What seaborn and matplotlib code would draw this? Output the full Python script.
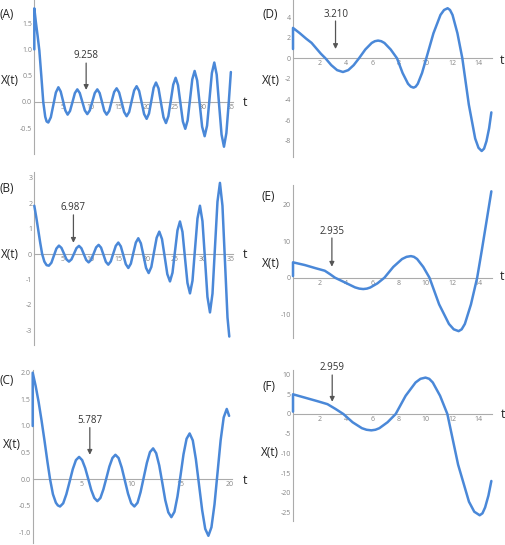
import numpy as np
import pandas as pd
import matplotlib
matplotlib.use('Agg')
import matplotlib.pyplot as plt
from matplotlib.ticker import MultipleLocator
import seaborn as sns

# ---- data ----
# (A)
tA = [0, 0, 0.3, 0.6, 0.9, 1.25, 1.6, 1.95, 2.2, 2.5,
      2.95, 3.4, 3.85, 4.3, 4.71, 5.13, 5.54, 5.95,
      6.38, 6.82, 7.25, 7.68, 8.12, 8.57, 9.02, 9.46,
      9.91, 10.36, 10.8, 11.25, 11.67, 12.09, 12.5, 12.92,
      13.37, 13.81, 14.26, 14.7, 15.15, 15.6, 16.04, 16.49,
      16.94, 17.38, 17.83, 18.27, 18.72, 19.17, 19.61, 20.06,
      20.48, 20.9, 21.31, 21.73, 22.18, 22.62, 23.07, 23.51,
      23.94, 24.38, 24.81, 25.24, 25.67, 26.1, 26.53, 26.96,
      27.38, 27.8, 28.21, 28.63, 29.08, 29.53, 29.97, 30.42,
      30.85, 31.28, 31.71, 32.14, 32.57, 33.0, 33.44, 33.87,
      34.3, 34.73, 35.1]
xA = [1.0, 1.78, 1.5, 1.25, 0.98, 0.5, 0.0, -0.28, -0.37, -0.39,
      -0.29, -0.055, 0.18, 0.28, 0.20, 0.02, -0.16, -0.24,
      -0.17, 0.0, 0.17, 0.24, 0.17, 0.005, -0.16, -0.23,
      -0.16, 0.005, 0.17, 0.24, 0.17, 0.0, -0.17, -0.24,
      -0.17, 0.01, 0.19, 0.26, 0.18, -0.005, -0.19, -0.27,
      -0.19, 0.015, 0.22, 0.30, 0.21, -0.01, -0.23, -0.32,
      -0.22, 0.025, 0.27, 0.37, 0.26, -0.015, -0.29, -0.40,
      -0.27, 0.03, 0.33, 0.46, 0.32, -0.025, -0.37, -0.51,
      -0.35, 0.04, 0.43, 0.59, 0.41, -0.03, -0.47, -0.65,
      -0.45, 0.05, 0.55, 0.75, 0.52, -0.05, -0.62, -0.85,
      -0.59, 0.0, 0.57]

# (B)
tB = [0, 0.35, 0.7, 1.05, 1.4, 1.8, 2.2, 2.6,
      3.05, 3.5, 3.95, 4.4, 4.85, 5.3, 5.74, 6.19,
      6.64, 7.09, 7.53, 7.98, 8.41, 8.84, 9.27, 9.70,
      10.15, 10.6, 11.04, 11.49, 11.92, 12.35, 12.78, 13.21,
      13.66, 14.1, 14.55, 15.0, 15.45, 15.9, 16.34, 16.79,
      17.24, 17.68, 18.13, 18.57, 19.03, 19.5, 19.96, 20.42,
      20.9, 21.37, 21.85, 22.32, 22.8, 23.28, 23.75, 24.23,
      24.68, 25.12, 25.57, 26.01, 26.46, 26.9, 27.35, 27.8,
      28.25, 28.69, 29.14, 29.58, 30.03, 30.48, 30.92, 31.37,
      31.82, 32.26, 32.71, 33.15, 33.6, 34.05, 34.5, 34.82]
xB = [1.9, 1.45, 0.95, 0.45, 0.0, -0.3, -0.44, -0.46,
      -0.345, -0.065, 0.215, 0.33, 0.24, 0.015, -0.21, -0.30,
      -0.21, 0.01, 0.23, 0.32, 0.225, -0.005, -0.235, -0.33,
      -0.23, 0.015, 0.26, 0.36, 0.25, -0.03, -0.31, -0.42,
      -0.29, 0.015, 0.32, 0.45, 0.30, -0.05, -0.40, -0.55,
      -0.38, 0.035, 0.45, 0.62, 0.42, -0.065, -0.55, -0.75,
      -0.51, 0.065, 0.64, 0.88, 0.59, -0.1, -0.79, -1.08,
      -0.735, 0.1, 0.935, 1.28, 0.87, -0.135, -1.14, -1.55,
      -1.05, 0.175, 1.40, 1.9, 1.29, -0.2, -1.69, -2.3,
      -1.56, 0.25, 2.06, 2.8, 1.9, -0.3, -2.5, -3.25]

# (C)
tC = [0, 0, 0.3, 0.6, 0.9, 1.2, 1.5, 1.76, 2.05, 2.35, 2.55, 2.77,
      3.09, 3.41, 3.74, 4.06, 4.38, 4.7,
      5.01, 5.32, 5.63, 5.93, 6.24, 6.55,
      6.86, 7.16, 7.47, 7.77, 8.08, 8.38,
      8.7, 9.02, 9.34, 9.66, 9.98, 10.3,
      10.62, 10.93, 11.25, 11.57, 11.88, 12.2,
      12.51, 12.82, 13.13, 13.43, 13.74, 14.05,
      14.36, 14.67, 14.98, 15.28, 15.59, 15.9,
      16.22, 16.53, 16.85, 17.17, 17.48, 17.8,
      18.11, 18.42, 18.73, 19.04, 19.35, 19.66,
      19.9]
xC = [1.0, 2.0, 1.75, 1.45, 1.1, 0.72, 0.32, 0.0, -0.28, -0.44, -0.49, -0.51,
      -0.45, -0.28, -0.045, 0.19, 0.36, 0.42,
      0.36, 0.21, 0.005, -0.20, -0.35, -0.41,
      -0.35, -0.19, 0.025, 0.24, 0.40, 0.46,
      0.40, 0.22, -0.025, -0.27, -0.45, -0.51,
      -0.44, -0.24, 0.035, 0.31, 0.51, 0.58,
      0.49, 0.26, -0.065, -0.39, -0.62, -0.71,
      -0.61, -0.32, 0.075, 0.47, 0.76, 0.86,
      0.73, 0.38, -0.10, -0.58, -0.93, -1.06,
      -0.90, -0.47, 0.13, 0.73, 1.16, 1.32,
      1.19]

# (D)
tD = [0, 0, 0.5, 1.0, 1.4, 1.8, 2.1, 2.45, 2.89, 3.33, 3.77, 4.17, 4.58,
      4.98, 5.46, 5.94, 6.18, 6.42, 6.66, 6.9, 7.37, 7.85, 8.27, 8.68, 8.89,
      9.1, 9.26, 9.42, 9.74, 10.06, 10.6, 11.13, 11.4, 11.67, 11.85, 12.04,
      12.41, 12.78, 13.27, 13.75, 14.0, 14.24, 14.42, 14.6, 14.8, 14.97]
xD = [0.9, 2.95, 2.45, 1.9, 1.5, 0.9, 0.45, 0.0, -0.665, -1.15, -1.33, -1.15, -0.665,
      0.0, 0.86, 1.49, 1.66, 1.72, 1.66, 1.49, 0.86, 0.0, -1.425, -2.47, -2.75,
      -2.85, -2.75, -2.47, -1.425, 0.0, 2.43, 4.21, 4.69, 4.86, 4.69, 4.21,
      2.43, 0.0, -4.5, -7.79, -8.69, -9.0, -8.77, -8.05, -6.8, -5.25]

# (E)
tE = [0, 0, 0.9, 1.7, 2.4, 2.8, 3.17, 3.9, 4.68, 5.0, 5.3, 5.58, 5.83, 6.37, 6.9,
      7.57, 8.23, 8.57, 8.9, 9.13, 9.37, 9.83, 10.3, 11.03, 11.77, 12.13, 12.5,
      12.73, 12.97, 13.43, 13.9, 14.25, 14.6, 14.97]
xE = [0.45, 4.2, 3.45, 2.6, 1.9, 0.95, 0.0, -1.27, -2.64, -2.98, -3.1, -2.98, -2.68, -1.55, 0.0,
      2.95, 5.1, 5.7, 5.9, 5.7, 5.1, 2.95, 0.0, -7.3, -12.64, -14.1, -14.6,
      -14.1, -12.64, -7.3, 0.0, 7.5, 15.3, 23.6]

# (F)
tF = [0, 0, 0.9, 1.9, 2.6, 3.2, 3.8, 4.5, 5.2, 5.55, 5.91, 6.22, 6.52, 7.14, 7.75,
      8.5, 9.25, 9.62, 10.0, 10.28, 10.55, 11.1, 11.65, 12.46, 13.28, 13.68, 14.09,
      14.3, 14.5, 14.75, 14.97]
xF = [0.6, 5.0, 4.15, 3.2, 2.5, 1.3, 0.0, -2.1, -3.6, -4.0, -4.15, -4.0, -3.6, -2.08, 0.0,
      4.62, 8.0, 8.93, 9.24, 8.93, 8.0, 4.62, 0.0, -12.85, -22.26, -24.8, -25.7,
      -25.2, -23.7, -20.7, -17.0]

panel_names = ['(A)', '(B)', '(C)', '(D)', '(E)', '(F)']
delays = [9.258, 6.987, 5.787, 3.210, 2.935, 2.959]

yticksA = [-0.5, 0.0, 0.5, 1.0, 1.5]
yticksB = [-3, -2, -1, 0, 1, 2, 3]
yticksC = [-1.0, -0.5, 0.0, 0.5, 1.0, 1.5, 2.0]
yticksD = [-8, -6, -4, -2, 0, 2, 4]
yticksE = [-10, 0, 10, 20]
yticksF = [-25, -20, -15, -10, -5, 0, 5, 10]
xticks35 = [5, 10, 15, 20, 25, 30, 35]
xticks20 = [5, 10, 15, 20]
xticks15 = [2, 4, 6, 8, 10, 12, 14]

# ---- drawing ----
sns.set_theme(style='white')
plt.rcParams['font.family'] = ['Open Sans', 'DejaVu Sans']

W, H = 506, 545
fig = plt.figure(figsize=(W / 100, H / 100), dpi=100)

line_col = '#4A88D8'
axis_col = '#ABABAB'

# layout in pixels: x of t=0, px per t, y of X=0, px per X, xlim, ylim
panels = [
    dict(t=tA, x=xA, x0=34.3, xs=5.6, y0=102, ys=52.6, xlim=(0, 35.5), ylim=(-0.99, 1.94),
         xt=xticks35, yt=yticksA, yfmt='{:.1f}', xmin=1, ymin=0.1,
         arr=(0.23, 0.74, 0.88), lab=(0, 14), xl=(10, 80), tl=(245, 102)),
    dict(t=tB, x=xB, x0=34.3, xs=5.6, y0=254, ys=25.4, xlim=(0, 35.4), ylim=(-3.58, 3.24),
         xt=xticks35, yt=yticksB, yfmt='{:d}', xmin=1, ymin=0.2,
         arr=(0.44, 1.54, 1.83), lab=(0, 188), xl=(10, 254), tl=(245, 254)),
    dict(t=tC, x=xC, x0=32.7, xs=9.87, y0=479.3, ys=53.3, xlim=(0, 20.2), ylim=(-1.2, 2.05),
         xt=xticks20, yt=yticksC, yfmt='{:.1f}', xmin=1, ymin=0.1,
         arr=(0.46, 0.97, 1.1), lab=(0, 380), xl=(12, 445), tl=(245, 481)),
    dict(t=tD, x=xD, x0=293, xs=13.25, y0=58.3, ys=10.3, xlim=(0, 15.0), ylim=(-9.55, 5.66),
         xt=xticks15, yt=yticksD, yfmt='{:d}', xmin=0.5, ymin=0.5,
         arr=(0.9, 3.62, 4.3), lab=(263, 14), xl=(271, 80), tl=(502, 61)),
    dict(t=tE, x=xE, x0=293, xs=13.25, y0=277.7, ys=3.66, xlim=(0, 15.0), ylim=(-16.5, 25.3),
         xt=xticks15, yt=yticksE, yfmt='{:d}', xmin=0.5, ymin=2,
         arr=(3.0, 10.85, 12.6), lab=(262, 196), xl=(271, 263), tl=(502, 277)),
    dict(t=tF, x=xF, x0=293, xs=13.25, y0=414, ys=3.94, xlim=(0, 15.0), ylim=(-27.2, 11.2),
         xt=xticks15, yt=yticksF, yfmt='{:d}', xmin=0.5, ymin=1,
         arr=(3.1, 9.9, 11.75), lab=(263, 386), xl=(270, 452), tl=(503, 414)),
]

for name, d, p in zip(panel_names, delays, panels):
    left = p['x0'] + p['xlim'][0] * p['xs']
    right = p['x0'] + p['xlim'][1] * p['xs']
    top = p['y0'] - p['ylim'][1] * p['ys']
    bottom = p['y0'] - p['ylim'][0] * p['ys']
    ax = fig.add_axes([left / W, 1 - bottom / H, (right - left) / W, (bottom - top) / H])
    ax.patch.set_alpha(0)

    df = pd.DataFrame({'t': p['t'], 'X': p['x']})
    sns.lineplot(data=df, x='t', y='X', ax=ax, sort=False, estimator=None,
                 color=line_col, lw=1.8, zorder=5, clip_on=False,
                 solid_joinstyle='round', solid_capstyle='round')
    ax.set_xlim(p['xlim'])
    ax.set_ylim(p['ylim'])
    ax.set_xlabel('')
    ax.set_ylabel('')

    for s in ['top', 'right']:
        ax.spines[s].set_visible(False)
    ax.spines['bottom'].set_position(('data', 0))
    ax.spines['left'].set_position(('data', 0))
    for s in ['bottom', 'left']:
        ax.spines[s].set_color(axis_col)
        ax.spines[s].set_linewidth(0.8)

    ax.set_xticks(p['xt'])
    ax.set_xticklabels([str(v) for v in p['xt']])
    ax.set_yticks(p['yt'])
    ax.set_yticklabels([p['yfmt'].format(v) for v in p['yt']])
    ax.xaxis.set_minor_locator(MultipleLocator(p['xmin']))
    ax.yaxis.set_minor_locator(MultipleLocator(p['ymin']))
    ax.tick_params(which='both', direction='in', color=axis_col, labelcolor='#858585',
                   labelsize=5, pad=1.5, width=0.6)
    ax.tick_params(which='major', length=3)
    ax.tick_params(which='minor', length=1.5)
    ax.grid(False)

    tip, tail, txt = p['arr']
    ax.annotate('', xy=(d, tip), xytext=(d, tail),
                arrowprops=dict(arrowstyle='-|>', color='#555555', lw=0.9,
                                mutation_scale=7, shrinkA=0, shrinkB=0),
                annotation_clip=False, zorder=6)
    ax.text(d, txt, '{:.3f}'.format(d), ha='center', va='center', fontsize=7,
            color='#333333', clip_on=False)

    fig.text(p['lab'][0] / W, 1 - p['lab'][1] / H, name, ha='left', va='center',
             fontsize=8.5, color='#222222')
    fig.text(p['xl'][0] / W, 1 - p['xl'][1] / H, 'X(t)', ha='center', va='center',
             fontsize=8.5, color='#222222')
    fig.text(p['tl'][0] / W, 1 - p['tl'][1] / H, 't', ha='center', va='center',
             fontsize=9, color='#222222')

fig.savefig('out.png', dpi=100)
